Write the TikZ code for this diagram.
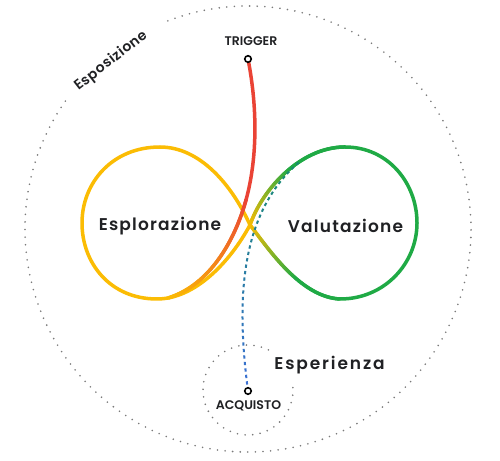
\documentclass[tikz,border=0pt]{standalone}
\usepackage{fontspec}
\setmainfont{Poppins SemiBold}
\usetikzlibrary{decorations.markings}
\definecolor{gyellow}{HTML}{FBBC04}
\definecolor{ggreen}{HTML}{1FAA45}
\definecolor{gred}{HTML}{EA4335}
\definecolor{gblue}{HTML}{3B6FD6}
\definecolor{gteal}{HTML}{178C6E}
\definecolor{ink}{HTML}{202124}
\definecolor{dotgray}{HTML}{7A7A7A}
\newcommand\gradmark[4]{%
  \pgfmathsetmacro\gpct{max(0,min(100,(\pgfkeysvalueof{/pgf/decoration/mark info/distance from start}/(#4*\pgfdecoratedpathlength))*100))}%
  \draw[line width=#3, line cap=round, color=#2!\gpct!#1] (-0.45pt,0pt) -- (0.45pt,0pt);}
\newcommand\dashmark[3]{%
  \pgfmathsetmacro\gpct{max(0,min(100,(\pgfkeysvalueof{/pgf/decoration/mark info/distance from start}/\pgfdecoratedpathlength)*100))}%
  \draw[line width=#3, color=#2!\gpct!#1] (0pt,0pt) -- (3.3pt,0pt);}
\begin{document}
\begin{tikzpicture}[x=1pt,y=1pt,
  lobe/.style={line width=3.5pt, line cap=round},
  dotc/.style={draw=dotgray, line width=1.8pt, line cap=round, dash pattern=on 0pt off 7.6pt},
  lbl/.style={text=ink, inner sep=0pt, font=\fontsize{12.5}{14}\selectfont},
  big/.style={text=ink, inner sep=0pt, font=\fontsize{17}{20}\selectfont\addfontfeatures{LetterSpace=7}},
  bigwide/.style={text=ink, inner sep=0pt, font=\fontsize{17}{20}\selectfont\addfontfeatures{LetterSpace=11}},
  midlbl/.style={text=ink, inner sep=0pt, font=\fontsize{14}{16}\selectfont\addfontfeatures{LetterSpace=4}},
  endpt/.style={circle, draw=black, line width=1.6pt, fill=white, inner sep=0pt, minimum size=6.5pt},
  gradpath/.style n args={4}{postaction={decorate}, decoration={markings, mark=between positions 0 and 1 step 0.7pt with {\gradmark{#1}{#2}{#3}{#4}}}},
  dashgrad/.style n args={3}{postaction={decorate}, decoration={markings, mark=between positions 0 and 1 step 6.5pt with {\dashmark{#1}{#2}{#3}}}}
]
\fill[white] (0,0) rectangle (500,460);
\useasboundingbox (0,0) rectangle (500,460);

% dotted circles
\coordinate (O) at (248,231);
\draw[dotc] (O) ++(145:223pt) arc[start angle=145, end angle=473, radius=223pt];
\coordinate (O2) at (248,70);
\draw[dotc] (O2) ++(63:45pt) arc[start angle=63, end angle=364, radius=45pt];

% figure eight
\coordinate (C) at (250,235);
\draw[lobe, gyellow] (C) .. controls (232,275) and (200,313) .. (160,313)
  .. controls (112,313) and (82,277) .. (82,237)
  .. controls (82,197) and (110,161) .. (157,161)
  .. controls (195,161) and (230,198) .. (C);
\draw[lobe, ggreen] (340,161) .. controls (385,161) and (417,197) .. (417,237)
  .. controls (417,277) and (388,313) .. (345,313);
\path[gradpath={gyellow}{ggreen}{3.5pt}{0.6}] (C) .. controls (268,212) and (300,163) .. (340,161);
\path[gradpath={gyellow}{ggreen}{3.5pt}{0.55}] (C) .. controls (262,270) and (300,313) .. (345,313);

% trigger path
\coordinate (Tp) at (248,401);
\draw[lobe, gred] (Tp) .. controls (258,350) and (257,300) .. (246,260) coordinate (Rm);
\path[gradpath={gred}{gyellow}{3.5pt}{1}] (Rm) .. controls (235,220) and (210,175) .. (168,162);

% purchase path
\coordinate (Ap) at (248,69);
\path[dashgrad={gblue}{gteal}{2pt}] (Ap) .. controls (236,160) and (240,245) .. (297,296);

\node[endpt] (T) at (Tp) {};
\node[endpt] (A) at (Ap) {};

% labels
\node[lbl] (trig) at (251,419) {TRIGGER};
\node[lbl] (acq) at (248.5,54) {ACQUISTO};
\node[big] (espl) at (160,234) {Esplorazione};
\node[big] (valu) at (345.5,234) {Valutazione};
\node[bigwide] (espe) at (329.5,95) {Esperienza};
\node[midlbl, rotate=38] (espo) at (111,399) {Esposizione};
\end{tikzpicture}
\end{document}
